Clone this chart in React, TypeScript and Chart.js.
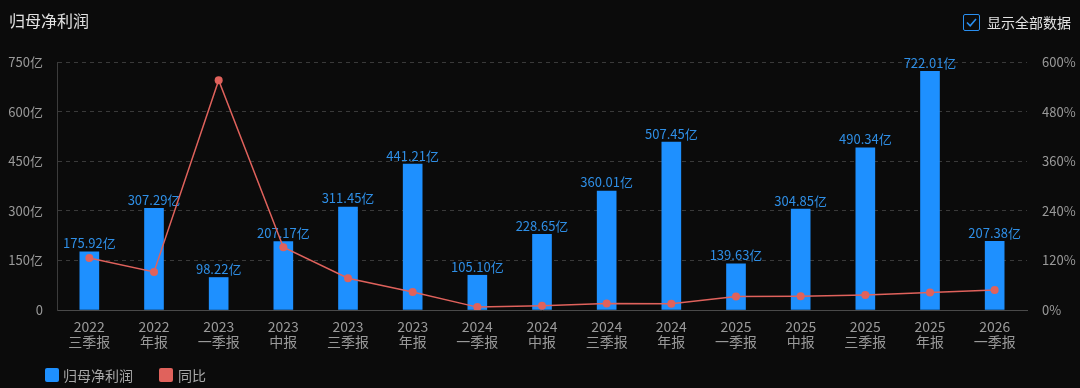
import React, { useEffect, useRef } from "react";
import { Chart, registerables } from "chart.js";

Chart.register(...registerables);

const categories: string[][] = [
  ["2022", "三季报"], ["2022", "年报"], ["2023", "一季报"], ["2023", "中报"], ["2023", "三季报"],
  ["2023", "年报"], ["2024", "一季报"], ["2024", "中报"], ["2024", "三季报"], ["2024", "年报"],
  ["2025", "一季报"], ["2025", "中报"], ["2025", "三季报"], ["2025", "年报"], ["2026", "一季报"],
];
const profit: number[] = [175.92, 307.29, 98.22, 207.17, 311.45, 441.21, 105.1, 228.65, 360.01, 507.45, 139.63, 304.85, 490.34, 722.01, 207.38];
const yoy: number[] = [126, 92, 556, 152, 77.0, 43.6, 7.0, 10.4, 15.6, 15.0, 32.9, 33.3, 36.2, 42.3, 48.5];

const leftMax = 750;
const leftStep = 150;
const rightMax = 600;
const rightStep = 120;

const FONT = '"Noto Sans CJK SC", "Noto Sans", sans-serif';
const BLUE = "#1e90ff";
const RED = "#e0625c";

const labelPlugin = {
  id: "barLabels",
  afterDatasetDraw(chart: any, args: any) {
    if (args.index !== 0) return;
    const ctx = chart.ctx;
    const meta = chart.getDatasetMeta(0);
    ctx.save();
    ctx.font = `13px ${FONT}`;
    ctx.fillStyle = "#2f8fe6";
    ctx.textAlign = "center";
    ctx.textBaseline = "bottom";
    meta.data.forEach((el: any, i: number) => {
      ctx.fillText(profit[i].toFixed(2) + "亿", el.x, el.y - 2);
    });
    ctx.restore();
  },
};

export default function App() {
  const ref = useRef<HTMLCanvasElement>(null);
  useEffect(() => {
    if (!ref.current) return;
    const chart = new Chart(ref.current, {
      type: "bar",
      data: {
        labels: categories,
        datasets: [
          {
            type: "bar",
            label: "归母净利润",
            data: profit,
            backgroundColor: BLUE,
            barThickness: 19,
            yAxisID: "y",
            order: 1,
          },
          {
            type: "line",
            label: "同比",
            data: yoy,
            borderColor: RED,
            backgroundColor: RED,
            borderWidth: 1.5,
            pointRadius: 4,
            pointBackgroundColor: RED,
            pointBorderWidth: 0,
            tension: 0,
            yAxisID: "y1",
            order: 0,
          } as any,
        ],
      },
      options: {
        responsive: false,
        animation: false,
        devicePixelRatio: 1,
        layout: { padding: { top: 62, bottom: 24, left: 0, right: 0 } },
        plugins: { legend: { display: false }, tooltip: { enabled: false } },
        scales: {
          x: {
            grid: { display: false },
            border: { color: "#4a4a4a", width: 1 },
            ticks: {
              color: "#9a9a9a",
              font: { family: FONT, size: 14, lineHeight: 1.1 },
              padding: 1,
              maxRotation: 0,
              autoSkip: false,
            },
            afterFit(scale: any) { scale.height = 54; },
          },
          y: {
            position: "left",
            min: 0,
            max: leftMax,
            ticks: {
              stepSize: leftStep,
              color: "#9a9a9a",
              font: { family: FONT, size: 13 },
              padding: 14,
              callback: (v: any) => (v === 0 ? "0" : v + "亿"),
            },
            grid: { color: "#3a3a3a", drawTicks: false, lineWidth: 1 },
            border: { color: "#3c3c3c", dash: [4, 4], display: true },
            afterFit(scale: any) { scale.width = 57; },
          },
          y1: {
            position: "right",
            min: 0,
            max: rightMax,
            ticks: {
              stepSize: rightStep,
              color: "#9a9a9a",
              font: { family: FONT, size: 13 },
              padding: 15,
              callback: (v: any) => v + "%",
            },
            grid: { display: false, drawTicks: false },
            border: { display: false },
            afterFit(scale: any) { scale.width = 53; },
          },
        },
      },
      plugins: [labelPlugin],
    });
    return () => chart.destroy();
  }, []);

  return (
    <div style={{ position: "fixed", left: 0, top: 0, width: 1080, height: 388, background: "#0b0b0b", fontFamily: FONT, overflow: "hidden" }}>
      <canvas ref={ref} width={1080} height={388} style={{ position: "absolute", left: 0, top: 0 }} />
      <div style={{ position: "absolute", left: 9, top: 9, fontSize: 16, color: "#e2e2e2", lineHeight: "22px" }}>归母净利润</div>
      <div style={{ position: "absolute", left: 963, top: 13, display: "flex", alignItems: "center" }}>
        <div style={{ width: 15, height: 15, border: "1.5px solid #2a8ff0", borderRadius: 2, position: "relative" }}>
          <svg width="15" height="15" viewBox="0 0 15 15" style={{ position: "absolute", left: 0, top: 0 }}>
            <polyline points="3,7.5 6.2,10.8 12,4" fill="none" stroke="#2a8ff0" strokeWidth="1.6" />
          </svg>
        </div>
        <span style={{ marginLeft: 7, fontSize: 14, color: "#e2e2e2", lineHeight: "18px" }}>显示全部数据</span>
      </div>
      <div style={{ position: "absolute", left: 45, top: 365, display: "flex", alignItems: "center", fontSize: 14, color: "#a8a8a8", lineHeight: "20px" }}>
        <span style={{ width: 14, height: 14, background: BLUE, borderRadius: 2, display: "inline-block" }} />
        <span style={{ marginLeft: 4 }}>归母净利润</span>
        <span style={{ width: 14, height: 14, background: RED, borderRadius: 2, display: "inline-block", marginLeft: 26 }} />
        <span style={{ marginLeft: 5 }}>同比</span>
      </div>
    </div>
  );
}
